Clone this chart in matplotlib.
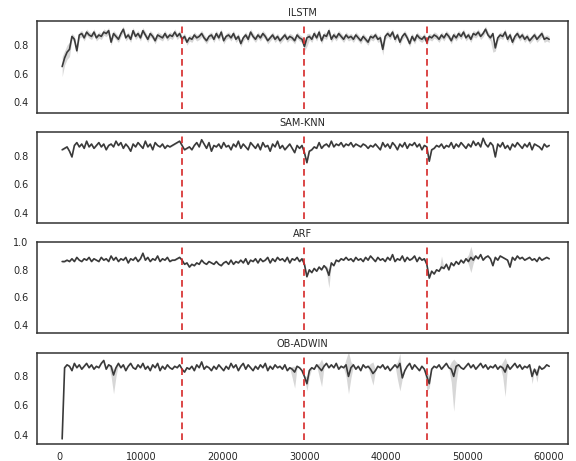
import matplotlib
matplotlib.use("Agg")
import matplotlib.pyplot as plt
import numpy as np
import seaborn as sns

# sample positions of the evaluation window (every 300 instances)
steps = np.arange(300, 60001, 300)
drift_points = [15000, 30000, 45000]
model_names = ["ILSTM", "SAM-KNN", "ARF", "OB-ADWIN"]

ilstm_acc = [
    0.65, 0.71, 0.75, 0.77, 0.86, 0.84, 0.76, 0.87, 0.88, 0.85,
    0.89, 0.87, 0.86, 0.89, 0.85, 0.87, 0.86, 0.89, 0.88, 0.90,
    0.82, 0.88, 0.86, 0.84, 0.88, 0.91, 0.85, 0.87, 0.84, 0.90,
    0.86, 0.88, 0.85, 0.90, 0.87, 0.84, 0.88, 0.86, 0.83, 0.87,
    0.86, 0.85, 0.88, 0.85, 0.87, 0.86, 0.89, 0.86, 0.88, 0.84,
    0.86, 0.82, 0.85, 0.84, 0.87, 0.85, 0.86, 0.88, 0.85, 0.83,
    0.86, 0.87, 0.84, 0.88, 0.85, 0.89, 0.83, 0.86, 0.87, 0.85,
    0.88, 0.84, 0.86, 0.81, 0.85, 0.87, 0.84, 0.89, 0.86, 0.84,
    0.87, 0.85, 0.88, 0.86, 0.83, 0.85, 0.87, 0.84, 0.86, 0.83,
    0.85, 0.87, 0.84, 0.86, 0.85, 0.83, 0.87, 0.85, 0.84, 0.79,
    0.85, 0.86, 0.84, 0.88, 0.85, 0.89, 0.83, 0.87, 0.86, 0.90,
    0.84, 0.87, 0.85, 0.88, 0.86, 0.84, 0.87, 0.85, 0.86, 0.84,
    0.87, 0.85, 0.83, 0.86, 0.84, 0.82, 0.86, 0.85, 0.87, 0.84,
    0.85, 0.77, 0.86, 0.88, 0.86, 0.89, 0.84, 0.87, 0.82, 0.86,
    0.88, 0.85, 0.81, 0.86, 0.83, 0.87, 0.85, 0.84, 0.86, 0.82,
    0.86, 0.85, 0.87, 0.86, 0.84, 0.87, 0.85, 0.88, 0.86, 0.83,
    0.87, 0.85, 0.88, 0.86, 0.89, 0.85, 0.87, 0.84, 0.88, 0.87,
    0.89, 0.86, 0.88, 0.91, 0.87, 0.85, 0.88, 0.78, 0.85, 0.87,
    0.86, 0.89, 0.84, 0.87, 0.82, 0.86, 0.88, 0.85, 0.87, 0.84,
    0.86, 0.83, 0.85, 0.87, 0.84, 0.86, 0.88, 0.84, 0.85, 0.84,
]

samknn_acc = [
    0.84, 0.85, 0.86, 0.83, 0.79, 0.87, 0.89, 0.86, 0.88, 0.85,
    0.90, 0.86, 0.88, 0.85, 0.87, 0.89, 0.86, 0.88, 0.84, 0.87,
    0.88, 0.86, 0.90, 0.87, 0.89, 0.85, 0.88, 0.86, 0.83, 0.88,
    0.86, 0.89, 0.87, 0.85, 0.90, 0.86, 0.88, 0.84, 0.89, 0.87,
    0.86, 0.88, 0.85, 0.87, 0.86, 0.87, 0.88, 0.89, 0.90, 0.87,
    0.84, 0.85, 0.86, 0.84, 0.87, 0.89, 0.86, 0.91, 0.88, 0.85,
    0.89, 0.83, 0.87, 0.86, 0.88, 0.85, 0.89, 0.86, 0.87, 0.84,
    0.88, 0.86, 0.90, 0.85, 0.88, 0.86, 0.84, 0.89, 0.87, 0.85,
    0.88, 0.84, 0.89, 0.86, 0.87, 0.83, 0.88, 0.86, 0.90, 0.85,
    0.87, 0.84, 0.86, 0.88, 0.85, 0.82, 0.87, 0.85, 0.87, 0.82,
    0.75, 0.83, 0.84, 0.86, 0.85, 0.89, 0.85, 0.87, 0.88, 0.86,
    0.90, 0.86, 0.88, 0.87, 0.89, 0.86, 0.88, 0.87, 0.89, 0.86,
    0.88, 0.87, 0.86, 0.88, 0.87, 0.85, 0.87, 0.86, 0.88, 0.86,
    0.84, 0.89, 0.86, 0.88, 0.85, 0.89, 0.87, 0.84, 0.88, 0.86,
    0.89, 0.85, 0.88, 0.87, 0.89, 0.86, 0.88, 0.84, 0.87, 0.86,
    0.76, 0.84, 0.85, 0.87, 0.86, 0.88, 0.85, 0.87, 0.86, 0.89,
    0.85, 0.88, 0.86, 0.89, 0.87, 0.85, 0.88, 0.86, 0.90, 0.87,
    0.89, 0.86, 0.92, 0.88, 0.86, 0.89, 0.87, 0.79, 0.88, 0.86,
    0.89, 0.85, 0.87, 0.84, 0.88, 0.86, 0.89, 0.87, 0.85, 0.88,
    0.86, 0.89, 0.84, 0.88, 0.87, 0.86, 0.84, 0.88, 0.86, 0.87,
]

arf_acc = [
    0.86, 0.86, 0.87, 0.86, 0.88, 0.86, 0.89, 0.87, 0.86, 0.88,
    0.87, 0.89, 0.86, 0.88, 0.87, 0.86, 0.89, 0.87, 0.88, 0.86,
    0.90, 0.87, 0.89, 0.86, 0.88, 0.87, 0.89, 0.85, 0.88, 0.87,
    0.89, 0.86, 0.88, 0.92, 0.87, 0.89, 0.86, 0.88, 0.87, 0.90,
    0.86, 0.88, 0.87, 0.89, 0.86, 0.87, 0.87, 0.88, 0.89, 0.87,
    0.84, 0.85, 0.82, 0.84, 0.83, 0.85, 0.84, 0.87, 0.85, 0.84,
    0.86, 0.85, 0.84, 0.86, 0.84, 0.83, 0.85, 0.86, 0.84, 0.87,
    0.84, 0.86, 0.85, 0.87, 0.85, 0.88, 0.84, 0.87, 0.86, 0.88,
    0.85, 0.88, 0.86, 0.87, 0.89, 0.85, 0.88, 0.86, 0.89, 0.87,
    0.88, 0.86, 0.89, 0.85, 0.88, 0.87, 0.89, 0.86, 0.88, 0.84,
    0.75, 0.80, 0.78, 0.81, 0.79, 0.82, 0.80, 0.83, 0.81, 0.76,
    0.85, 0.83, 0.87, 0.86, 0.88, 0.87, 0.89, 0.87, 0.88, 0.86,
    0.89, 0.87, 0.88, 0.86, 0.89, 0.87, 0.90, 0.88, 0.86, 0.89,
    0.87, 0.88, 0.86, 0.89, 0.87, 0.91, 0.86, 0.88, 0.87, 0.90,
    0.86, 0.89, 0.87, 0.88, 0.90, 0.86, 0.89, 0.87, 0.88, 0.84,
    0.74, 0.79, 0.77, 0.80, 0.79, 0.82, 0.81, 0.84, 0.80, 0.85,
    0.83, 0.86, 0.84, 0.87, 0.85, 0.88, 0.86, 0.89, 0.87, 0.90,
    0.88, 0.91, 0.87, 0.89, 0.90, 0.88, 0.83, 0.89, 0.87, 0.90,
    0.89, 0.88, 0.87, 0.82, 0.89, 0.87, 0.90, 0.88, 0.89, 0.87,
    0.88, 0.89, 0.87, 0.88, 0.86, 0.89, 0.87, 0.88, 0.89, 0.88,
]

obadwin_acc = [
    0.37, 0.86, 0.88, 0.87, 0.84, 0.89, 0.86, 0.88, 0.85, 0.87,
    0.89, 0.86, 0.88, 0.85, 0.87, 0.86, 0.89, 0.91, 0.85, 0.88,
    0.87, 0.81, 0.86, 0.89, 0.86, 0.88, 0.84, 0.87, 0.89, 0.86,
    0.85, 0.88, 0.86, 0.89, 0.85, 0.87, 0.84, 0.88, 0.86, 0.89,
    0.84, 0.87, 0.85, 0.88, 0.86, 0.85, 0.87, 0.86, 0.88, 0.85,
    0.83, 0.86, 0.85, 0.87, 0.84, 0.88, 0.86, 0.90, 0.85, 0.87,
    0.86, 0.84, 0.87, 0.85, 0.88, 0.86, 0.84, 0.87, 0.85, 0.89,
    0.86, 0.88, 0.84, 0.87, 0.89, 0.85, 0.88, 0.86, 0.84, 0.87,
    0.85, 0.88, 0.86, 0.89, 0.84, 0.87, 0.85, 0.88, 0.86, 0.87,
    0.85, 0.88, 0.84, 0.86, 0.85, 0.83, 0.87, 0.86, 0.84, 0.80,
    0.75, 0.84, 0.86, 0.85, 0.88, 0.86, 0.84, 0.87, 0.89, 0.86,
    0.88, 0.86, 0.89, 0.85, 0.87, 0.86, 0.88, 0.80, 0.86, 0.88,
    0.85, 0.87, 0.84, 0.88, 0.86, 0.87, 0.85, 0.82, 0.84, 0.87,
    0.86, 0.88, 0.85, 0.87, 0.84, 0.86, 0.88, 0.86, 0.89, 0.79,
    0.84, 0.87, 0.89, 0.85, 0.88, 0.86, 0.84, 0.87, 0.85, 0.80,
    0.75, 0.85, 0.87, 0.86, 0.88, 0.85, 0.87, 0.89, 0.86, 0.85,
    0.80, 0.87, 0.88, 0.86, 0.85, 0.87, 0.89, 0.86, 0.88, 0.85,
    0.87, 0.89, 0.86, 0.88, 0.85, 0.87, 0.86, 0.88, 0.85, 0.87,
    0.86, 0.83, 0.88, 0.85, 0.87, 0.89, 0.86, 0.88, 0.85, 0.87,
    0.86, 0.88, 0.80, 0.85, 0.81, 0.87, 0.85, 0.86, 0.88, 0.87,
]

# usual half-width of the band across runs, and places where it gets wide
band_width = [0.022, 0.005, 0.005, 0.004]
ilstm_band = {300: (0.58, 0.72), 600: (0.66, 0.76), 900: (0.70, 0.80), 1200: (0.72, 0.82),
              30000: (0.76, 0.82), 30300: (0.79, 0.88), 39600: (0.73, 0.80),
              53100: (0.75, 0.81)}
samknn_band = {}
arf_band = {300: (0.85, 0.87), 32700: (0.78, 0.83), 33000: (0.67, 0.80),
            50100: (0.84, 0.91), 50400: (0.78, 0.97), 50700: (0.85, 0.90),
            46800: (0.81, 0.90)}
obadwin_band = {6300: (0.80, 0.88), 6600: (0.68, 0.85), 6900: (0.80, 0.88),
                28500: (0.79, 0.87), 28800: (0.72, 0.87),
                30300: (0.70, 0.80), 30600: (0.80, 0.86),
                31800: (0.80, 0.89), 32100: (0.73, 0.92),
                35100: (0.80, 0.92), 35400: (0.68, 0.97), 35700: (0.79, 0.90),
                38100: (0.80, 0.89), 38400: (0.74, 0.90),
                41400: (0.78, 0.90), 41700: (0.70, 0.96),
                45000: (0.70, 0.84), 45300: (0.72, 0.80),
                48000: (0.76, 0.90), 48300: (0.56, 0.92), 48600: (0.76, 0.90),
                54300: (0.80, 0.90), 54600: (0.66, 0.93),
                57900: (0.75, 0.84), 58500: (0.76, 0.85)}

series = [ilstm_acc, samknn_acc, arf_acc, obadwin_acc]
bands = [ilstm_band, samknn_band, arf_band, obadwin_band]
ylims = [(0.33, 0.966), (0.33, 0.966), (0.34, 1.0), (0.335, 0.964)]

sns.set_style("white")
plt.rcParams['font.family'] = ['DejaVu Sans']

fig, axes = plt.subplots(4, 1, figsize=(5.76, 4.61), dpi=100, sharex=True)
fig.subplots_adjust(left=0.064, right=0.986, top=0.954, bottom=0.037, hspace=0.21)

for ax, name, acc, band, w, yl in zip(axes, model_names, series, bands, band_width, ylims):
    acc = np.array(acc)
    lower = acc - w
    upper = acc + w
    for xv, (lo, hi) in band.items():
        idx = int(np.argmin(np.abs(steps - xv)))
        lower[idx] = lo
        upper[idx] = hi
    ax.fill_between(steps, lower, upper, color='#bdbdbd', alpha=0.6, lw=0)
    ax.plot(steps, acc, color='#3a3a3a', lw=1.2)
    for d in drift_points:
        ax.axvline(d, ymin=0.04, ymax=0.96, color='#d62728', ls='--', lw=1.2, dashes=(4, 2.5))
    ax.set_title(name, fontsize=7, color='#262626', pad=4)
    ax.set_ylim(*yl)
    ax.set_xlim(-2800, 62300)
    ax.tick_params(labelsize=7, colors='#262626', length=0, pad=6)
    for s in ax.spines.values():
        s.set_color('#333333')
        s.set_linewidth(1.1)

axes[0].set_yticks([0.4, 0.6, 0.8])
axes[1].set_yticks([0.4, 0.6, 0.8])
axes[2].set_yticks([0.4, 0.6, 0.8, 1.0])
axes[3].set_yticks([0.4, 0.6, 0.8])
axes[3].set_xticks([0, 10000, 20000, 30000, 40000, 50000, 60000])

fig.savefig("out.png", dpi=100)
